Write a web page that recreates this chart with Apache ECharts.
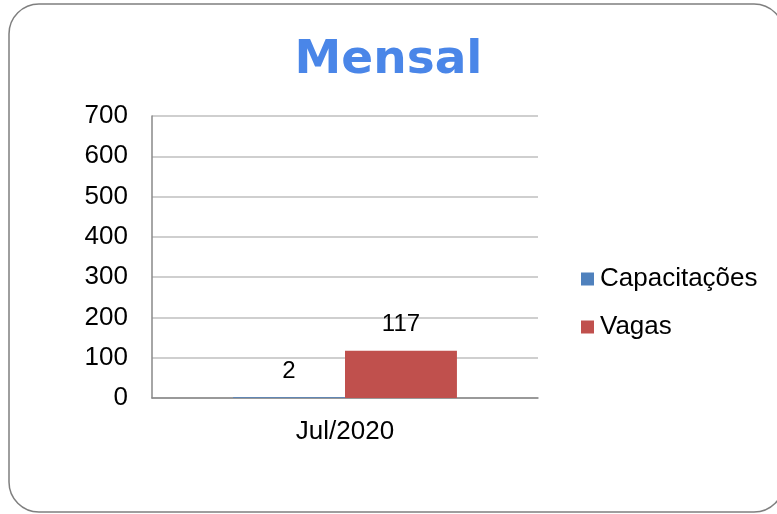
<!DOCTYPE html>
<html>
<head>
<meta charset="utf-8">
<script src="https://cdn.jsdelivr.net/npm/echarts@6/dist/echarts.min.js"></script>
<style>
  html, body { margin: 0; padding: 0; background: #fff; }
  #chart { width: 777px; height: 514px; }
</style>
</head>
<body>
<div id="chart"></div>
<script>
const categories = ['Jul/2020'];
const capacitacoes = [2];
const vagas = [117];
const yTicks = { min: 0, max: 700, interval: 100 };

const chart = echarts.init(document.getElementById('chart'), null, { renderer: 'canvas' });

const labelStyle = {
  show: true,
  position: 'top',
  distance: 14,
  color: '#000',
  fontSize: 24,
  fontFamily: 'Liberation Sans, Arial, sans-serif'
};

chart.setOption({
  backgroundColor: '#fff',
  animation: false,
  graphic: [{
    type: 'rect',
    shape: { x: 9, y: 4, width: 775, height: 508, r: 30 },
    style: { fill: 'none', stroke: '#7f7f7f', lineWidth: 1.5 },
    z: -1
  }],
  title: {
    text: 'Mensal',
    left: 'center',
    top: 32,
    textStyle: {
      color: '#4a86e8',
      fontSize: 47,
      fontWeight: 'bold',
      fontFamily: 'DejaVu Sans, Verdana, sans-serif'
    }
  },
  legend: {
    orient: 'vertical',
    left: 581,
    top: 266,
    padding: 0,
    itemWidth: 13,
    itemHeight: 13,
    itemGap: 22,
    icon: 'rect',
    textStyle: {
      color: '#000',
      fontSize: 26,
      fontFamily: 'Liberation Sans, Arial, sans-serif',
      padding: [0, 0, 0, 1]
    },
    data: ['Capacitações', 'Vagas']
  },
  grid: {
    left: 152,
    right: 239,
    top: 116,
    bottom: 116,
    containLabel: false
  },
  xAxis: {
    type: 'category',
    data: categories,
    axisLine: { lineStyle: { color: '#888', width: 1.5 } },
    axisTick: { show: false },
    axisLabel: {
      color: '#000',
      fontSize: 26,
      margin: 21,
      fontFamily: 'Liberation Sans, Arial, sans-serif'
    }
  },
  yAxis: {
    type: 'value',
    min: yTicks.min,
    max: yTicks.max,
    interval: yTicks.interval,
    axisLine: { show: true, lineStyle: { color: '#888', width: 1.5 } },
    axisTick: { show: false },
    splitLine: { lineStyle: { color: '#bfbfbf', width: 1.5 } },
    axisLabel: {
      color: '#000',
      fontSize: 26,
      margin: 24,
      fontFamily: 'Liberation Sans, Arial, sans-serif'
    }
  },
  series: [
    {
      name: 'Capacitações',
      type: 'bar',
      data: capacitacoes,
      barGap: '0%',
      barCategoryGap: '42%',
      itemStyle: { color: '#4f81bd' },
      label: labelStyle
    },
    {
      name: 'Vagas',
      type: 'bar',
      data: vagas,
      itemStyle: { color: '#c0504d' },
      label: labelStyle
    }
  ]
});
</script>
</body>
</html>
